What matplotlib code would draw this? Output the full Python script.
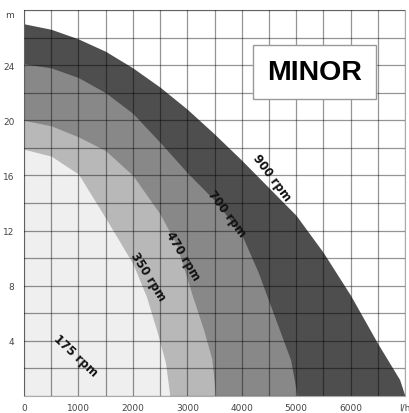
import numpy as np
import matplotlib.pyplot as plt

# curve points (flow l/h, head m)
q_900 = [0, 500, 1000, 1500, 2000, 2500, 3000, 3500, 4000, 4500, 5000, 5500, 6000, 6500, 6900, 7000]
h_900 = [27.0, 26.6, 25.9, 25.0, 23.8, 22.4, 20.8, 19.0, 17.1, 15.1, 13.1, 10.4, 7.3, 3.8, 1.2, 0.0]

q_700 = [0, 500, 1000, 1500, 2000, 2500, 3000, 3500, 4000, 4300, 4600, 4900, 5020]
h_700 = [24.1, 23.8, 23.1, 22.0, 20.5, 18.4, 16.2, 14.2, 11.7, 9.0, 5.8, 2.6, 0.0]

q_470 = [0, 500, 1000, 1500, 2000, 2500, 2800, 3100, 3300, 3450, 3520]
h_470 = [20.0, 19.6, 18.8, 17.8, 16.0, 13.2, 11.0, 7.2, 4.8, 2.7, 0.0]

q_350 = [0, 500, 1000, 1500, 2000, 2250, 2450, 2600, 2680]
h_350 = [17.9, 17.4, 16.1, 12.9, 9.6, 7.2, 4.6, 2.4, 0.0]

labels = ["900 rpm", "700 rpm", "470 rpm", "350 rpm", "175 rpm"]
label_q = [4560, 3730, 2920, 2280, 940]
label_h = [15.9, 13.3, 10.2, 8.7, 3.0]
label_rot = [-53, -53, -59, -58, -43]

x_ticks = [0, 1000, 2000, 3000, 4000, 5000, 6000, 7000]
x_ticklabels = ["0", "1000", "2000", "3000", "4000", "5000", "6000", "l/h"]
y_ticks = [4, 8, 12, 16, 20, 24, 28]
y_ticklabels = ["4", "8", "12", "16", "20", "24", "m"]

curves = [(q_900, h_900, "#4e4e4e"),
          (q_700, h_700, "#888888"),
          (q_470, h_470, "#b8b8b8"),
          (q_350, h_350, "#efefef")]

fig = plt.figure(figsize=(4.10, 4.14), dpi=100)
ax = fig.add_axes([24/410, 17/414, 381/410, 386/414])

for q, h, col in curves:
    ax.fill_between(q, h, 0, color=col, linewidth=0, zorder=1)

ax.set_xlim(0, 7000)
ax.set_ylim(0, 28)
ax.set_xticks(np.arange(0, 7001, 500), minor=True)
ax.set_yticks(np.arange(0, 28.1, 2), minor=True)
ax.grid(which="both", color="black", alpha=0.42, linewidth=0.9, zorder=2)
ax.set_axisbelow(False)

ax.set_xticks(x_ticks)
ax.set_xticklabels(x_ticklabels)
ax.set_yticks(y_ticks)
ax.set_yticklabels(y_ticklabels)
ax.tick_params(which="both", length=0, labelsize=6.5, labelcolor="#444444")
ax.tick_params(axis="x", pad=5)
ax.tick_params(axis="y", pad=7)
ax.get_yticklabels()[-1].set_va("top")
for s in ax.spines.values():
    s.set_color("#aaaaaa")
    s.set_linewidth(0.8)

for txt, q, h, r in zip(labels, label_q, label_h, label_rot):
    ax.text(q, h, txt, rotation=r, ha="center", va="center", fontsize=8.5,
            fontweight="bold", color="#111111", rotation_mode="anchor", zorder=4)

ax.text(0.762, 0.84, "MINOR", transform=ax.transAxes, ha="center", va="center",
        fontsize=20.5, fontweight="bold", family="Liberation Sans", zorder=5,
        bbox=dict(boxstyle="square,pad=0.5", facecolor="white", edgecolor="#999999", linewidth=1))

fig.savefig("out.png", dpi=100)
